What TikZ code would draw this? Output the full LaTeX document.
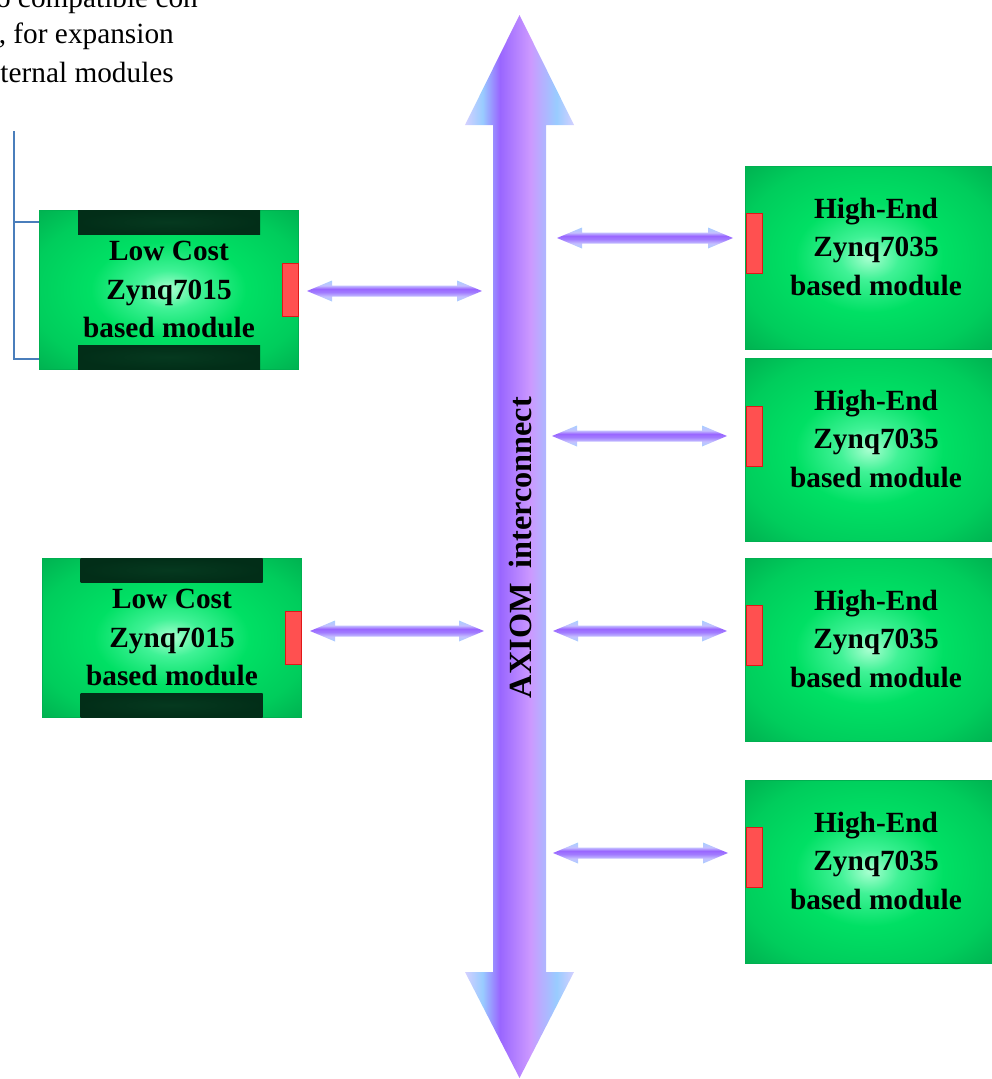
\documentclass[tikz,border=0pt]{standalone}
\usepackage{fontspec}
\setmainfont{Liberation Serif}
\usetikzlibrary{calc}
\definecolor{busA}{HTML}{D4D0FF}
\definecolor{busB}{HTML}{99CCFF}
\definecolor{busC}{HTML}{9966FF}
\definecolor{busD}{HTML}{CC99FF}
\definecolor{lnA}{HTML}{A8D0FF}
\definecolor{lnB}{HTML}{C4C0FF}
\definecolor{lnC}{HTML}{A27CFF}
\definecolor{lnD}{HTML}{9966FF}
\definecolor{gC}{HTML}{A8FFD0}
\definecolor{gM}{HTML}{40F296}
\definecolor{gE}{HTML}{00E064}
\definecolor{gO}{HTML}{00B050}
\definecolor{dkA}{HTML}{05391F}
\definecolor{dkB}{HTML}{022E18}
\definecolor{redC}{HTML}{FF5050}
\definecolor{redD}{HTML}{E01818}
\definecolor{brk}{HTML}{4A7EBB}
% TikZ maps the path's bounding box onto the 25bp..75bp part of a shading
\pgfdeclarehorizontalshading{busshade}{100bp}{color(0bp)=(busA); color(25bp)=(busA); color(33bp)=(busB); color(41bp)=(busC); color(55bp)=(busD); color(67bp)=(busB); color(75bp)=(busA); color(100bp)=(busA)}
\pgfdeclareverticalshading{linkshade}{100bp}{color(0bp)=(lnA); color(25bp)=(lnA); color(37bp)=(lnB); color(47bp)=(lnC); color(55bp)=(lnD); color(63bp)=(lnB); color(75bp)=(lnA); color(100bp)=(lnA)}
\pgfdeclareradialshading{modshade}{\pgfpoint{0bp}{0bp}}{color(0bp)=(gC); color(6bp)=(gM); color(15bp)=(gE); color(27bp)=(gO!40!gE); color(36bp)=(gO); color(50bp)=(gO)}
\pgfdeclareradialshading{barshade}{\pgfpoint{0bp}{0bp}}{color(0bp)=(dkA); color(25bp)=(dkB); color(50bp)=(dkB)}
\tikzset{
  module/.style={shading=modshade, draw=gO, line width=0.6pt, inner sep=0pt, outer sep=0pt},
  bar/.style={shading=barshade, inner sep=0pt, outer sep=0pt, minimum width=182, minimum height=24},
  conn/.style={fill=redC, draw=redD, line width=1pt, inner sep=0pt, outer sep=0pt, minimum width=16, minimum height=53},
  connhe/.style={conn, minimum height=60},
  modtext/.style={font=\bfseries\fontsize{29.3}{38.5}\selectfont, align=center, inner sep=0pt},
  note/.style={font=\fontsize{29.3}{34}\selectfont, inner sep=0pt},
  bracket/.style={draw=brk, line width=1.4pt},
  link/.style={shading=linkshade}
}
\newcommand\linkarrow[2]{%
  \path[link] let \p1=(#1), \p2=(#2) in
    (\x1,\y1) -- (\x1+25pt,\y1+10.5pt) -- (\x1+25pt,\y1+5.5pt) -- (\x2-25pt,\y1+5.5pt)
    -- (\x2-25pt,\y1+10.5pt) -- (\x2,\y1) -- (\x2-25pt,\y1-10.5pt) -- (\x2-25pt,\y1-5.5pt)
    -- (\x1+25pt,\y1-5.5pt) -- (\x1+25pt,\y1-10.5pt) -- cycle;}
\begin{document}
\begin{tikzpicture}[x=1pt,y=-1pt]
\useasboundingbox (0,0) rectangle (992,1079);

% note text (clipped at the left edge)
\node[note, anchor=base east] (n1) at (198,7) {o compatible con};
\node[note, anchor=base east] (n2) at (174,43.5) {, for expansion};
\node[note, anchor=base east] (n3) at (174,82) {ternal modules};

% bus
\path[shading=busshade] (465,125) -- (519.5,15) -- (574,125) -- (546,125) -- (546,972)
  -- (574,972) -- (519.5,1078) -- (465,972) -- (493,972) -- (493,125) -- cycle;
\node[font=\bfseries\fontsize{32.3}{32}\selectfont, rotate=90, inner sep=0pt] (bus) at (520,547.5) {AXIOM\hspace{0.45em}interconnect};

% low cost modules
\node[module, minimum width=259, minimum height=159] (lc1) at (168.5,289.5) {};
\node[bar, anchor=north] (lc1t) at (169,210) {};
\node[bar, anchor=south] (lc1b) at (169,369) {};
\node[conn, anchor=east] (lc1c) at (lc1.east) {};
\node[modtext] (lc1x) at (169,289.5) {Low Cost\\Zynq7015\\based module};

\node[module, minimum width=259, minimum height=159] (lc2) at (171.5,637.5) {};
\node[bar, anchor=north] (lc2t) at (171.5,558) {};
\node[bar, anchor=south] (lc2b) at (171.5,717) {};
\node[conn, anchor=east] (lc2c) at (lc2.east) {};
\node[modtext] (lc2x) at (172,637.5) {Low Cost\\Zynq7015\\based module};

% bracket
\coordinate (bk0) at (14,131);
\draw[bracket] (bk0) -- (14,359) -- (lc1.west |- 0,359);
\draw[bracket] (14,222) -- (lc1.west |- 0,222);

% high-end modules
\foreach \i/\top/\ct in {1/166/243, 2/358/436, 3/558/635, 4/780/857}{
  \node[module, minimum width=247, minimum height=183, anchor=north west] (he\i) at (745.5,\top) {};
  \node[connhe] (he\i c) at (754,\ct) {};
  \node[modtext] (he\i x) at (876,\top+81) {High-End\\Zynq7035\\based module};
}

% link arrows
\coordinate (l1a) at (307,291);   \coordinate (l1b) at (482,291);
\coordinate (l2a) at (310,631);   \coordinate (l2b) at (484,631);
\coordinate (r1a) at (557,238);   \coordinate (r1b) at (733,238);
\coordinate (r2a) at (552,436);   \coordinate (r2b) at (727,436);
\coordinate (r3a) at (553,631);   \coordinate (r3b) at (727,631);
\coordinate (r4a) at (553,853);   \coordinate (r4b) at (728,853);
\linkarrow{l1a}{l1b}
\linkarrow{l2a}{l2b}
\linkarrow{r1a}{r1b}
\linkarrow{r2a}{r2b}
\linkarrow{r3a}{r3b}
\linkarrow{r4a}{r4b}
\end{tikzpicture}
\end{document}
